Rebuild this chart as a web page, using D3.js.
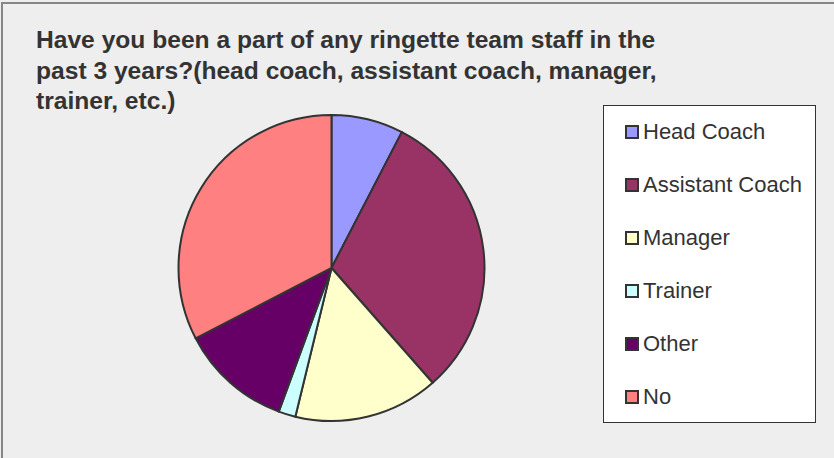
<!DOCTYPE html>
<html>
<head>
<meta charset="utf-8">
<script src="https://cdn.jsdelivr.net/npm/d3@7"></script>
<style>
  html, body { margin: 0; padding: 0; background: #eeeeee; }
  svg { display: block; font-family: "Liberation Sans", Arial, sans-serif; }
</style>
</head>
<body>
<script>
// answers, in the order the slices run clockwise from 12 o'clock
var categories = ["Head Coach", "Assistant Coach", "Manager", "Trainer", "Other", "No"];
var shares = [7.6, 30.9, 15.3, 1.8, 11.8, 32.6];   // percent
var colours = ["#9999ff", "#993366", "#ffffcc", "#ccffff", "#660066", "#ff8080"];
var titleLines = ["Have you been a part of any ringette team staff in the",
                  "past 3 years?(head coach, assistant coach, manager,",
                  "trainer, etc.)"];

var W = 834, H = 458;
var svg = d3.select("body").append("svg").attr("width", W).attr("height", H);

// chart area frame
svg.append("rect").attr("x", 2).attr("y", 3).attr("width", W + 10).attr("height", H + 10)
  .attr("fill", "#eeeeee").attr("stroke", "#868686").attr("stroke-width", 2);

// title
svg.append("text").attr("x", 36).attr("y", 48)
  .attr("font-size", 24.6).attr("font-weight", "bold").attr("fill", "#333333")
  .selectAll("tspan").data(titleLines).enter().append("tspan")
  .attr("x", 36).attr("dy", function(d, i){ return i ? 30.5 : 0; })
  .text(function(d){ return d; });

// pie
var colour = d3.scaleOrdinal().domain(categories).range(colours);
var pie = d3.pie().sort(null).value(function(d){ return d.v; });
var arc = d3.arc().innerRadius(0).outerRadius(153);
var slices = categories.map(function(c, i){ return {k: c, v: shares[i]}; });

svg.append("g").attr("transform", "translate(331.5,268)")
  .selectAll("path").data(pie(slices)).enter().append("path")
  .attr("d", arc)
  .attr("fill", function(d){ return colour(d.data.k); })
  .attr("stroke", "#333333").attr("stroke-width", 2).attr("stroke-linejoin", "round");

// legend
var leg = svg.append("g");
leg.append("rect").attr("x", 603.5).attr("y", 105.5).attr("width", 212).attr("height", 317)
  .attr("fill", "#ffffff").attr("stroke", "#333333").attr("stroke-width", 1);

var rows = leg.selectAll("g.row").data(categories).enter().append("g")
  .attr("class", "row")
  .attr("transform", function(d, i){ return "translate(0," + (139 + i * 53) + ")"; });
rows.append("rect").attr("x", 626).attr("y", -13).attr("width", 12).attr("height", 12)
  .attr("fill", function(d){ return colour(d); })
  .attr("stroke", "#333333").attr("stroke-width", 2);
rows.append("text").attr("x", 643).attr("y", 0)
  .attr("font-size", 22).attr("fill", "#333333")
  .text(function(d){ return d; });
</script>
</body>
</html>
